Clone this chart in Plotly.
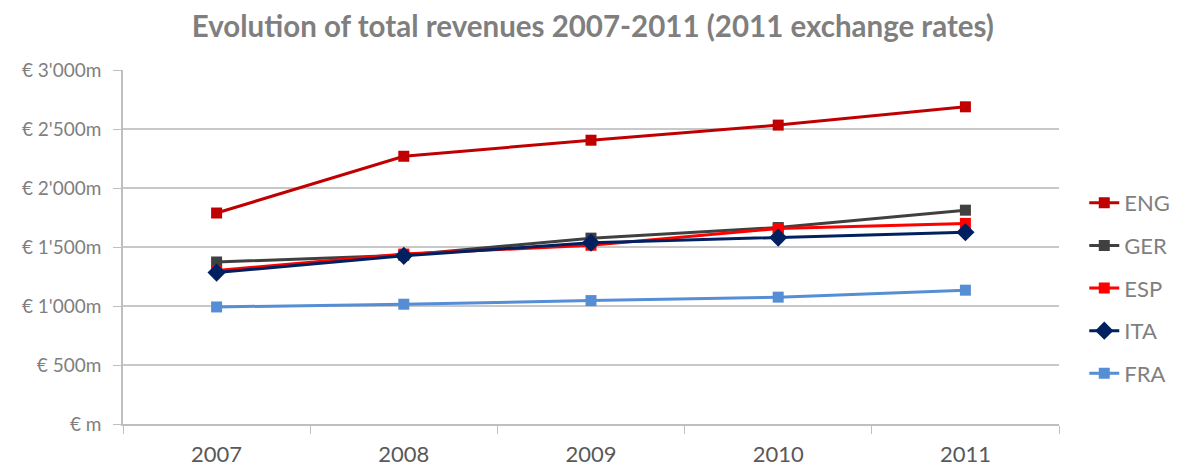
import plotly.graph_objects as go

years = ["2007", "2008", "2009", "2010", "2011"]
eng = [1788, 2269, 2405, 2533, 2688]
ger = [1373, 1430, 1575, 1665, 1812]
esp = [1300, 1440, 1515, 1656, 1700]
ita = [1283, 1425, 1537, 1580, 1625]
fra = [992, 1015, 1046, 1075, 1134]

y_ticks = [0, 500, 1000, 1500, 2000, 2500, 3000]
y_labels = ["€ m", "€ 500m", "€ 1'000m", "€ 1'500m", "€ 2'000m", "€ 2'500m", "€ 3'000m"]

series = [
    ("ENG", eng, "#C00000", "square", 11),
    ("GER", ger, "#404040", "square", 11),
    ("ESP", esp, "#FF0000", "square", 11),
    ("ITA", ita, "#002060", "diamond", 14),
    ("FRA", fra, "#558ED5", "square", 11),
]

fig = go.Figure()
for name, vals, color, symbol, size in series:
    fig.add_trace(go.Scatter(
        x=years, y=vals, name=name, legendgroup=name,
        mode="lines+markers",
        line=dict(color=color, width=3),
        marker=dict(symbol=symbol, size=size, color=color),
    ))

fig.update_layout(
    width=1178, height=467,
    margin=dict(l=123, r=119, t=70, b=43, autoexpand=False),
    paper_bgcolor="white", plot_bgcolor="white",
    font=dict(family="Lato, Open Sans, sans-serif", color="#7F7F7F"),
    title=dict(
        text="<b>Evolution of total revenues 2007-2011 (2011 exchange rates)</b>",
        x=0.502, xref="paper", xanchor="center",
        y=1 - 27 / 467, yref="container", yanchor="middle",
        font=dict(size=29.5, color="#7F7F7F"),
    ),
    legend=dict(
        x=1.027, xanchor="left", y=0.384, yanchor="middle",
        font=dict(size=22, color="#7F7F7F"),
        tracegroupgap=11, itemwidth=30,
    ),
    showlegend=True,
)
fig.update_xaxes(
    type="category", tickson="boundaries", ticks="outside", ticklen=8,
    tickcolor="#BFBFBF", showline=True, linecolor="#BFBFBF", linewidth=1.5,
    showgrid=False, tickfont=dict(size=22, color="#595959"),
    ticklabelstandoff=10,
    range=[-0.5, 4.5],
)
fig.update_yaxes(
    range=[0, 3000], tickvals=y_ticks, ticktext=y_labels,
    ticks="outside", ticklen=8, tickcolor="#BFBFBF",
    showline=True, linecolor="#BFBFBF", linewidth=1.5,
    showgrid=True, gridcolor="#C8C8C8", gridwidth=1.5, zeroline=False,
    tickfont=dict(size=19, color="#7F7F7F"),
    ticklabelstandoff=8,
)

fig.write_html("out.html")
